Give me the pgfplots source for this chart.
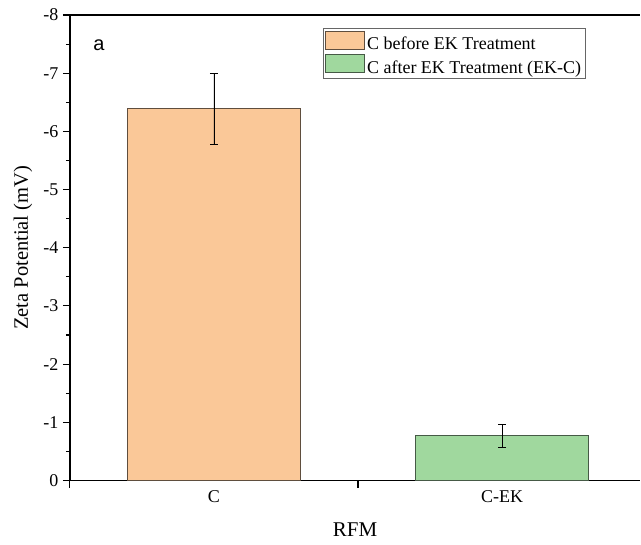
\documentclass[border=0pt]{standalone}
\usepackage{pgfplots}
\pgfplotsset{compat=1.18}
\usepackage{fontspec}
\setmainfont{Liberation Serif}
\newfontfamily\arialfont{Liberation Sans}

\definecolor{barA}{RGB}{250,200,152}
\definecolor{barAedge}{RGB}{95,78,62}
\definecolor{barB}{RGB}{160,216,158}
\definecolor{barBedge}{RGB}{70,90,70}

\begin{document}
\begin{tikzpicture}
\begin{axis}[
  scale only axis,
  width=571pt, height=466pt,
  xmin=0.5, xmax=2.48,
  ymin=-8, ymax=0,
  y dir=reverse,
  axis lines=left,
  axis line style={-, line width=1.3pt},
  tick align=outside,
  major tick length=7pt,
  minor tick length=4pt,
  every tick/.style={black, line width=1.1pt},
  font=\rmfamily\fontsize{18}{21}\selectfont,
  ytick={0,-1,-2,-3,-4,-5,-6,-7,-8},
  yticklabels={0,-1,-2,-3,-4,-5,-6,-7,-8},
  minor y tick num=1,
  xtick={0.5,1.5,2.5},
  xticklabels={},
  extra x ticks={1,2},
  extra x tick labels={C,C-EK},
  extra x tick style={major tick length=0pt, xticklabel style={yshift=-7pt}},
  yticklabel style={xshift=-1pt},
  xlabel={RFM},
  xlabel style={at={(axis description cs:0.5,0)}, anchor=north, yshift=-42pt,
    inner sep=0pt, font=\rmfamily\fontsize{21}{24}\selectfont},
  ylabel={Zeta Potential (mV)},
  ylabel style={at={(axis description cs:0,0.5)}, anchor=center, yshift=47pt,
    inner sep=0pt, font=\rmfamily\fontsize{20.5}{24}\selectfont},
  ybar, bar width=0.6, bar shift=0pt,
  legend style={
    at={(axis description cs:0.443,0.972)}, anchor=north west,
    draw=gray!80!black, line width=1pt, fill=white,
    font=\rmfamily\fontsize{18}{20}\selectfont,
    inner sep=2pt, row sep=1pt,
    legend cell align=left,
  },
  legend image code/.code={%
    \draw[#1, line width=1pt] (0pt,-5pt) rectangle (39pt,13pt);
  },
]
\addplot[fill=barA, draw=barAedge, line width=1.1pt,
  error bars/.cd, y dir=both, y explicit,
  error bar style={black, line width=0.8pt},
  error mark options={rotate=90, black, mark size=4pt, line width=0.8pt}]
  coordinates {(1,-6.39) +- (0,0.61)};
\addlegendentry{C before EK Treatment}

\addplot[fill=barB, draw=barBedge, line width=1.1pt,
  error bars/.cd, y dir=both, y explicit,
  error bar style={black, line width=0.8pt},
  error mark options={rotate=90, black, mark size=4pt, line width=0.8pt}]
  coordinates {(2,-0.77) +- (0,0.20)};
\addlegendentry{C after EK Treatment (EK-C)}

% top frame line
\draw[line width=1.3pt] (axis description cs:0,1) -- (axis description cs:1,1);
% panel letter
\node[font=\arialfont\fontsize{20}{22}\selectfont] at (axis description cs:0.051,0.935) {a};
\coordinate (ll) at (axis description cs:0,0);
\coordinate (ur) at (axis description cs:1,1);
\end{axis}
% page frame
\path ([shift={(-70pt,-64pt)}]ll) rectangle ([shift={(0pt,15pt)}]ur);
\end{tikzpicture}
\end{document}
